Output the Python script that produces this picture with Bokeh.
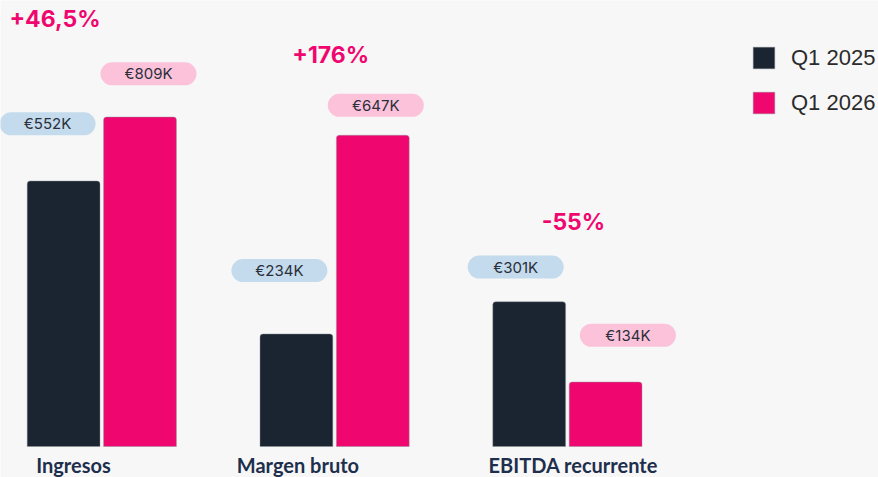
import numpy as np
from bokeh.plotting import figure
from bokeh.models import Range1d, ColumnDataSource, Legend, LegendItem
from bokeh.core.properties import value
from bokeh.embed import file_html
from bokeh.resources import INLINE

# ---------------- data ----------------
categories = ["Ingresos", "Margen bruto", "EBITDA recurrente"]
q1_2025 = [552, 234, 301]          # K€
q1_2026 = [809, 647, 134]          # K€
changes = ["+46,5%", "+176%", "-55%"]
series_names = ["Q1 2025", "Q1 2026"]

# ---------------- style / layout ----------------
BG = "#f7f7f7"
DARK = "#1b2431"
PINK = "#ef076f"
BLUE_PILL = "#c3dbec"
PINK_PILL = "#fbc2da"
PILL_TEXT = "#2b2f3a"
CAT_TEXT = "#1e2f4d"

W, H = 878, 477
PX_X = 232.8      # px per category step
PX_Y = 0.481      # px per K€
X0_PX = 101.3     # px of first category centre from frame left
BASE_PX = 31      # px from frame bottom to value 0
Y_CAP = 685       # top of original plot area (taller bars are clipped there)
BAR_OFF_PX = 38.2
BAR_W_PX = 72.8
PILL_W_PX, PILL_H_PX = 96, 23

# label placement tweaks (px): right / up
pill25_dx = [-16, -17, -13.5]
pill25_up = [57.2, 63.4, 34.7]
pill26_dx = [8.5, 3, 22.3]
pill26_up = [43.2, 30, 46.8]
pct_dx = [-46.8, -3.9, 6]
pct_up = [98.4, 80.1, 79.9]
cat_dx = [-28.3, -36.7, 5.9]

x_range = Range1d(-X0_PX / PX_X, (W - X0_PX) / PX_X)
y_range = Range1d(-BASE_PX / PX_Y, (H - BASE_PX) / PX_Y)

p = figure(width=W, height=H, x_range=x_range, y_range=y_range,
           output_backend="svg", toolbar_location=None,
           x_axis_location=None, y_axis_location=None,
           min_border=0, background_fill_color=BG, border_fill_color=BG,
           outline_line_color=None)
p.grid.visible = False

idx = np.arange(len(categories))
off = BAR_OFF_PX / PX_X
bw = BAR_W_PX / PX_X
v25 = np.array(q1_2025, dtype=float)
v26 = np.array(q1_2026, dtype=float)
top25 = np.minimum(v25, Y_CAP)
top26 = np.minimum(v26, Y_CAP)

r25 = p.vbar(x=idx - off, top=top25, bottom=0, width=bw, fill_color=DARK,
             line_color="#8d9298", line_alpha=0.45, line_width=1,
             border_radius=(3, 3, 0, 0))
r26 = p.vbar(x=idx + off, top=top26, bottom=0, width=bw, fill_color=PINK,
             line_color="#8d9298", line_alpha=0.45, line_width=1,
             border_radius=(3, 3, 0, 0))

# value pills
def pills(xbar, tops, vals, dx, up, color):
    xc = xbar + np.array(dx) / PX_X
    yc = tops + np.array(up) / PX_Y
    hw = PILL_W_PX / 2 / PX_X
    hh = PILL_H_PX / 2 / PX_Y
    src = ColumnDataSource(dict(l=xc - hw, r=xc + hw, b=yc - hh, t=yc + hh,
                                x=xc, y=yc, txt=[f"€{int(v)}K" for v in vals]))
    p.quad(left="l", right="r", bottom="b", top="t", source=src,
           fill_color=color, line_color=None, border_radius=12)
    p.text(x="x", y="y", text="txt", source=src, text_align="center",
           text_baseline="middle", text_font=value("Inter"),
           text_font_size="15px", text_color=PILL_TEXT)

pills(idx - off, top25, v25, pill25_dx, pill25_up, BLUE_PILL)
pills(idx + off, top26, v26, pill26_dx, pill26_up, PINK_PILL)

# change labels
pct_src = ColumnDataSource(dict(
    x=idx + np.array(pct_dx) / PX_X,
    y=np.maximum(top25, top26) + np.array(pct_up) / PX_Y,
    txt=changes))
p.text(x="x", y="y", text="txt", source=pct_src, text_align="center",
       text_baseline="middle", text_font=value("Inter"), text_font_style="bold",
       text_font_size="23px", text_color=PINK)

# category labels
cat_src = ColumnDataSource(dict(x=idx, y=np.zeros(len(idx)), txt=categories,
                                xo=cat_dx))
p.text(x="x", y="y", text="txt", source=cat_src, x_offset="xo", y_offset=18,
       text_align="center", text_baseline="alphabetic",
       text_font=value("Lato"), text_font_style="bold",
       text_font_size="20px", text_color=CAT_TEXT)

legend = Legend(items=[LegendItem(label=series_names[0], renderers=[r25]),
                       LegendItem(label=series_names[1], renderers=[r26])],
                location=(750, 361), orientation="vertical",
                glyph_width=27, glyph_height=27, label_standoff=14,
                spacing=18, padding=0, margin=0,
                border_line_color=None, background_fill_alpha=0,
                label_text_font="Liberation Sans",
                label_text_font_size="22px", label_text_color="#2b2b2b")
p.add_layout(legend)

open("out.html", "w").write(file_html(p, INLINE))
